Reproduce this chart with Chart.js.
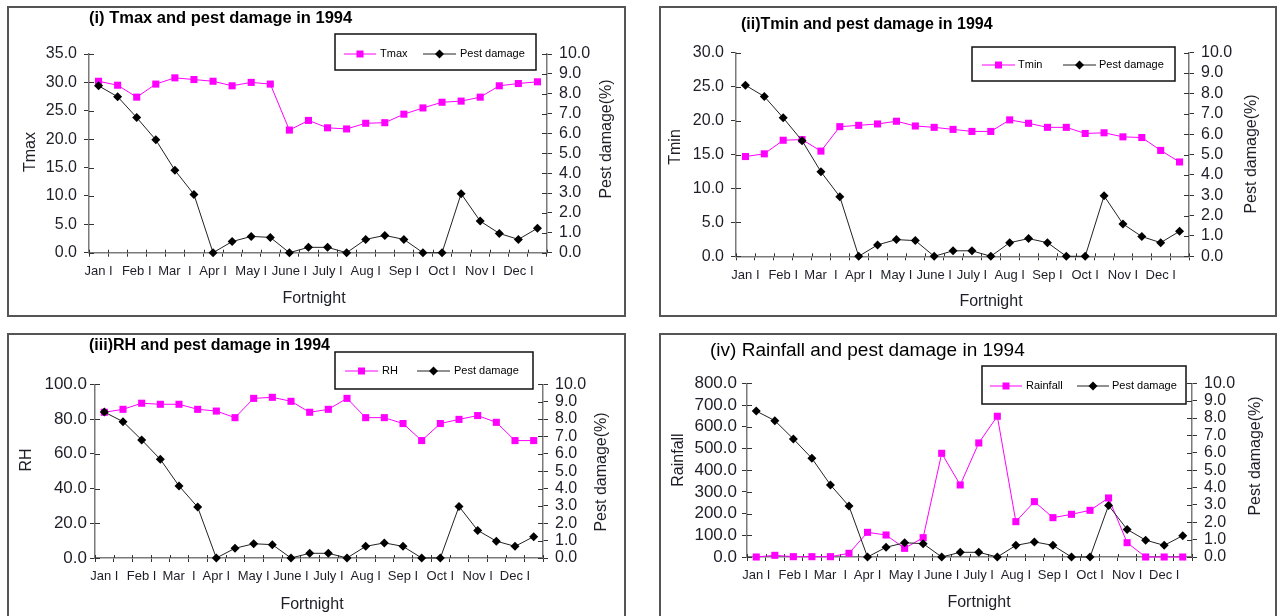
<!DOCTYPE html>
<html lang="en">
<head>
<meta charset="UTF-8">
<title>Weather and pest damage in 1994</title>
<script src="https://cdn.jsdelivr.net/npm/chart.js"></script>
<style>
    body {
        margin: 0;
        background: #fff;
        width: 1278px;
        height: 616px;
        overflow: hidden;
        position: relative;
    }
    .panel {
        position: absolute;
        border: 2px solid #555;
        background: #fff;
    }
    .panel canvas {
        position: absolute;
        left: 0;
        top: 0;
    }
    #p1 { left: 7px; top: 6px; width: 615px; height: 307px; }
    #p2 { left: 659px; top: 6px; width: 614px; height: 307px; }
    #p3 { left: 7px; top: 333px; width: 615px; height: 300px; }
    #p4 { left: 659px; top: 333px; width: 614px; height: 300px; }
</style>
</head>
<body>

<div class="panel" id="p1"><canvas id="c1" width="615" height="307"></canvas></div>
<div class="panel" id="p2"><canvas id="c2" width="614" height="307"></canvas></div>
<div class="panel" id="p3"><canvas id="c3" width="615" height="300"></canvas></div>
<div class="panel" id="p4"><canvas id="c4" width="614" height="300"></canvas></div>

<script>
// Fortnights of 1994 (only the first fortnight of each month is labelled)
const fortnights = ['Jan I', '', 'Feb I', '', 'Mar  I', '', 'Apr I', '', 'May I', '', 'June I', '',
                    'July I', '', 'Aug I', '', 'Sep I', '', 'Oct I', '', 'Nov I', '', 'Dec I', ''];

// Pest damage (%) - same series on the four panels
const pestDamage = [8.40, 7.85, 6.80, 5.68, 4.15, 2.93, 0, 0.56, 0.82, 0.77, 0, 0.27,
                    0.27, 0, 0.67, 0.87, 0.67, 0, 0, 2.97, 1.59, 0.97, 0.67, 1.23];

// Weather series
const tmax = [30.2, 29.5, 27.4, 29.7, 30.8, 30.5, 30.2, 29.4, 30.0, 29.7, 21.6, 23.3,
              22.0, 21.8, 22.8, 22.9, 24.4, 25.5, 26.5, 26.7, 27.4, 29.4, 29.8, 30.1];
const tmin = [14.7, 15.1, 17.1, 17.2, 15.5, 19.1, 19.3, 19.5, 19.9, 19.2, 19.0, 18.7,
              18.4, 18.4, 20.1, 19.6, 19.0, 19.0, 18.1, 18.2, 17.6, 17.5, 15.6, 13.9];
const rh = [83.9, 85.6, 89.1, 88.5, 88.5, 85.6, 84.6, 80.8, 91.9, 92.5, 90.2, 83.9,
            85.6, 91.9, 80.8, 80.8, 77.4, 67.6, 77.4, 79.8, 82.0, 78.1, 67.6, 67.6];
const rainfall = [0, 7.7, 1.5, 1.5, 1.5, 16.9, 113.6, 101.3, 39.9, 89.0, 477.6, 331.8,
                  525.3, 648.2, 162.8, 254.9, 181.2, 196.6, 215.0, 271.9, 66.0, 0, 0, 0];

const FONT = '"Liberation Sans", Arial, sans-serif';
const PINK = '#ff00ff';
const INK = '#1e1e28';

Chart.defaults.font.family = FONT;
Chart.defaults.color = INK;

// draws title, axis titles, the boxed legend and the inner half of the tick marks
// (positions are page coordinates, minus the canvas origin)
function decorPlugin(d) {
    return {
        id: 'decor',
        beforeDatasetsDraw(chart) {
            // Excel style "cross" ticks: add the inner part of every tick mark
            const ctx = chart.ctx;
            const a = chart.chartArea;
            ctx.save();
            ctx.strokeStyle = '#333';
            ctx.lineWidth = 1;
            ctx.beginPath();
            const sy = chart.scales.y, sy1 = chart.scales.y1, sx = chart.scales.x;
            sy.ticks.forEach(t => {
                const y = Math.round(sy.getPixelForValue(t.value)) + 0.5;
                ctx.moveTo(a.left, y); ctx.lineTo(a.left + 5, y);
            });
            sy1.ticks.forEach(t => {
                const y = Math.round(sy1.getPixelForValue(t.value)) + 0.5;
                ctx.moveTo(a.right, y); ctx.lineTo(a.right - 5, y);
            });
            const n = sx.ticks.length;
            for (let i = 0; i <= n; i++) {
                const x = Math.round(a.left + i * (a.right - a.left) / n) + 0.5;
                ctx.moveTo(x, a.bottom); ctx.lineTo(x, a.bottom - 3);
            }
            ctx.stroke();
            ctx.restore();
        },
        afterDraw(chart) {
            const ctx = chart.ctx;
            const ox = d.origin[0], oy = d.origin[1];
            ctx.save();
            ctx.textBaseline = 'middle';
            ctx.fillStyle = '#000';

            ctx.font = d.titleFont;
            ctx.textAlign = 'left';
            ctx.fillText(d.title, d.titleAt[0] - ox, d.titleAt[1] - oy);

            ctx.font = '16px ' + FONT;
            ctx.fillStyle = INK;
            ctx.textAlign = 'center';
            ctx.fillText('Fortnight', d.xTitleAt[0] - ox, d.xTitleAt[1] - oy);
            [[d.yTitle, d.yTitleAt], ['Pest damage(%)', d.y1TitleAt]].forEach(([t, p]) => {
                ctx.save();
                ctx.translate(p[0] - ox, p[1] - oy);
                ctx.rotate(-Math.PI / 2);
                ctx.fillText(t, 0, 0);
                ctx.restore();
            });

            // legend
            const b = d.legendBox;
            ctx.lineWidth = 1.5;
            ctx.strokeStyle = '#111';
            ctx.strokeRect(b[0] - ox, b[1] - oy, b[2] - b[0], b[3] - b[1]);
            ctx.font = '11px ' + FONT;
            ctx.textAlign = 'left';
            const y = d.legendY - oy;
            chart.data.datasets.forEach((ds, i) => {
                const it = d.legendItems[i];
                ctx.strokeStyle = ds.borderColor;
                ctx.lineWidth = ds.borderWidth;
                ctx.beginPath();
                ctx.moveTo(it[0] - ox, y);
                ctx.lineTo(it[1] - ox, y);
                ctx.stroke();
                const cx = (it[0] + it[1]) / 2 - ox;
                ctx.fillStyle = ds.pointBackgroundColor;
                ctx.beginPath();
                if (ds.pointStyle === 'rect') {
                    ctx.rect(cx - 3.5, y - 3.5, 7, 7);
                } else {
                    ctx.moveTo(cx, y - 4.5);
                    ctx.lineTo(cx + 4.5, y);
                    ctx.lineTo(cx, y + 4.5);
                    ctx.lineTo(cx - 4.5, y);
                    ctx.closePath();
                }
                ctx.fill();
                ctx.fillStyle = '#000';
                ctx.fillText(ds.label, it[2] - ox, y);
            });
            ctx.restore();
        }
    };
}

function makePanel(id, p) {
    new Chart(document.getElementById(id), {
        type: 'line',
        data: {
            labels: fortnights,
            datasets: [{
                label: p.name,
                data: p.values,
                yAxisID: 'y',
                borderColor: PINK,
                borderWidth: 1,
                pointStyle: 'rect',
                pointRadius: 5,
                pointBackgroundColor: PINK,
                pointBorderColor: PINK,
                pointBorderWidth: 0,
                tension: 0,
                clip: false,
                order: 1
            }, {
                label: 'Pest damage',
                data: pestDamage,
                yAxisID: 'y1',
                borderColor: '#222',
                borderWidth: 1,
                pointStyle: 'rectRot',
                pointRadius: 4.5,
                pointBackgroundColor: '#000',
                pointBorderColor: '#000',
                pointBorderWidth: 0,
                tension: 0,
                clip: false,
                order: 0
            }]
        },
        options: {
            responsive: false,
            animation: false,
            events: [],
            layout: { padding: { top: p.top, left: 0, right: 0, bottom: 0 } },
            plugins: { legend: { display: false }, title: { display: false }, tooltip: { enabled: false } },
            scales: {
                x: {
                    offset: true,
                    grid: { offset: true, drawOnChartArea: false, tickLength: 4, color: '#333' },
                    border: { color: '#7a7a7a', width: 1.5 },
                    ticks: { autoSkip: false, maxRotation: 0, minRotation: 0, padding: 7, font: { size: 13 } },
                    afterFit: s => { s.height = p.xh; }
                },
                y: {
                    position: 'left',
                    min: 0,
                    max: p.max,
                    grid: { drawOnChartArea: false, tickLength: 5, color: '#333' },
                    border: { color: '#7a7a7a', width: 1.5 },
                    ticks: { autoSkip: false, stepSize: p.step, padding: p.lpad, font: { size: p.lfont },
                             callback: v => v.toFixed(1) },
                    afterFit: s => { s.width = p.lw; }
                },
                y1: {
                    position: 'right',
                    min: 0,
                    max: 10,
                    grid: { drawOnChartArea: false, tickLength: 5, color: '#333' },
                    border: { color: '#7a7a7a', width: 1.5 },
                    ticks: { autoSkip: false, stepSize: 1, padding: 7, font: { size: 16 },
                             callback: v => v.toFixed(1) },
                    afterFit: s => { s.width = p.rw; }
                }
            }
        },
        plugins: [decorPlugin(p.decor)]
    });
}

makePanel('c1', {
    name: 'Tmax', values: tmax, max: 35, step: 5,
    top: 46, xh: 62.3, lw: 80, rw: 77, lpad: 7, lfont: 16,
    decor: {
        origin: [9, 8],
        title: '(i) Tmax and pest damage in 1994', titleFont: 'bold 16.5px ' + FONT, titleAt: [89, 18],
        yTitle: 'Tmax', yTitleAt: [31, 152], y1TitleAt: [607, 139], xTitleAt: [314, 299],
        legendBox: [335, 34, 536, 70], legendY: 54, legendItems: [[344, 376, 380], [423, 456, 460]]
    }
});

makePanel('c2', {
    name: 'Tmin', values: tmin, max: 30, step: 5,
    top: 44.7, xh: 58.7, lw: 75, rw: 86, lpad: 7, lfont: 16,
    decor: {
        origin: [661, 8],
        title: '(ii)Tmin and pest damage in 1994', titleFont: 'bold 16px ' + FONT, titleAt: [741, 25],
        yTitle: 'Tmin', yTitleAt: [676, 147], y1TitleAt: [1252, 154], xTitleAt: [991, 302],
        legendBox: [972, 47, 1175, 81], legendY: 65, legendItems: [[982, 1015, 1018], [1063, 1096, 1099]]
    }
});

makePanel('c3', {
    name: 'RH', values: rh, max: 100, step: 20,
    top: 49.3, xh: 77, lw: 86, rw: 81, lpad: 3, lfont: 17,
    decor: {
        origin: [9, 335],
        title: '(iii)RH and pest damage in 1994', titleFont: 'bold 16px ' + FONT, titleAt: [89, 346],
        yTitle: 'RH', yTitleAt: [27, 460], y1TitleAt: [602, 472], xTitleAt: [312, 605],
        legendBox: [335, 352, 533, 389], legendY: 371, legendItems: [[345, 378, 382], [417, 450, 454]]
    }
});

makePanel('c4', {
    name: 'Rainfall', values: rainfall, max: 800, step: 100,
    top: 48.3, xh: 78, lw: 86, rw: 83, lpad: 5, lfont: 17,
    decor: {
        origin: [661, 335],
        title: '(iv) Rainfall and pest damage in 1994', titleFont: '19px ' + FONT, titleAt: [710, 351],
        yTitle: 'Rainfall', yTitleAt: [679, 460], y1TitleAt: [1256, 456], xTitleAt: [979, 603],
        legendBox: [982, 366, 1186, 404], legendY: 386, legendItems: [[990, 1022, 1026], [1077, 1109, 1112]]
    }
});
</script>

</body>
</html>
